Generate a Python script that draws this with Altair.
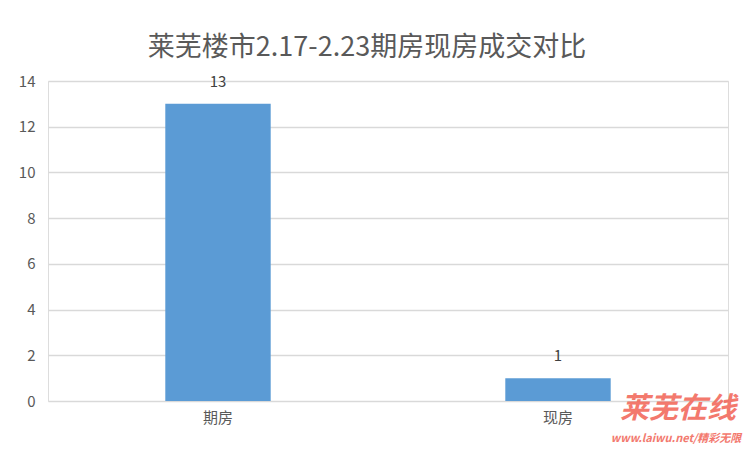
import altair as alt
import pandas as pd

categories = ["期房", "现房"]
values = [13, 1]
title_text = "莱芜楼市2.17-2.23期房现房成交对比"
y_ticks = [0, 2, 4, 6, 8, 10, 12, 14]

df = pd.DataFrame({"type": categories, "count": values})

FONT = "Noto Sans CJK SC"

base = alt.Chart(df)

x = alt.X("type:N", sort=categories, title=None,
          scale=alt.Scale(paddingInner=0.69, paddingOuter=0.345),
          axis=alt.Axis(labelAngle=0, labelFontSize=15, labelColor="#595959",
                        labelFont=FONT, labelPadding=9, ticks=False, domain=False,
                        grid=False))
y = alt.Y("count:Q", title=None,
          scale=alt.Scale(domain=[0, 14], nice=False),
          axis=alt.Axis(values=y_ticks, labelFontSize=15, labelColor="#595959",
                        labelFont=FONT, labelPadding=13, ticks=False, domain=False,
                        gridColor="#d9d9d9", gridWidth=1.5))

bars = base.mark_bar(color="#5b9bd5").encode(x=x, y=y)
labels = base.mark_text(dy=-17, baseline="alphabetic", fontSize=15, color="#404040",
                        font=FONT).encode(x=alt.X("type:N", sort=categories),
                                          y="count:Q", text="count:Q")

wm1 = alt.Chart(pd.DataFrame({"t": ["莱芜在线"]})).mark_text(
    fontSize=29, fontWeight="bold", fontStyle="italic", color="#f26b5e",
    font=FONT, align="center", baseline="alphabetic", opacity=0.9
).encode(x=alt.value(630), y=alt.value(337), text="t:N")
wm2 = alt.Chart(pd.DataFrame({"t": ["www.laiwu.net/精彩无限"]})).mark_text(
    fontSize=11, fontStyle="italic", fontWeight="bold", color="#f26b5e",
    font=FONT, align="center", baseline="alphabetic", opacity=0.9
).encode(x=alt.value(628), y=alt.value(361), text="t:N")

chart = alt.layer(bars, labels, wm1, wm2).properties(
    width=680, height=320,
    autosize=alt.AutoSizeParams(type="none"),
    padding={"left": 40, "top": 73, "right": 16, "bottom": 48},
    title=alt.TitleParams(title_text, fontSize=27, font=FONT, color="#595959",
                          fontWeight="normal", anchor="middle", dx=-21, dy=27,
                          baseline="alphabetic", offset=18),
).configure_view(stroke=None).configure(background="white")

chart.save("out.html", embed_options={"renderer": "svg", "actions": False})
